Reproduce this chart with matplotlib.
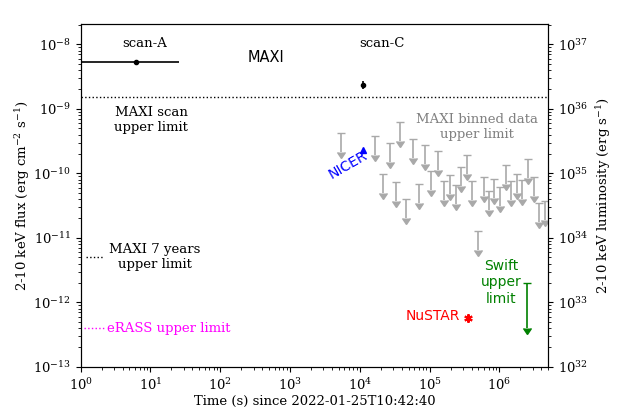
import numpy as np
import matplotlib
matplotlib.use("Agg")
import matplotlib.pyplot as plt

plt.rcParams['font.family'] = ['DejaVu Serif']
plt.rcParams['mathtext.fontset'] = 'dejavuserif'
plt.rcParams['font.size'] = 9.5

# MAXI binned upper limits
ul_time = [5350, 16400, 21300, 26800, 32700, 37300, 45400, 57200, 69600, 84800,
           1.03e5, 1.30e5, 1.58e5, 1.93e5, 2.35e5, 2.77e5, 3.38e5, 3.98e5, 4.85e5,
           5.91e5, 7.2e5, 8.48e5, 1.03e6, 1.26e6, 1.48e6, 1.81e6, 2.13e6, 2.60e6,
           3.16e6, 3.73e6, 4.54e6]
ul_flux = [4.28e-10, 3.85e-10, 9.9e-11, 3.0e-10, 7.4e-11, 6.35e-10, 4.05e-11, 3.46e-10,
           6.9e-11, 2.79e-10, 1.10e-10, 2.25e-10, 7.7e-11, 9.55e-11, 6.7e-11, 1.27e-10,
           1.95e-10, 7.7e-11, 1.29e-11, 8.9e-11, 5.4e-11, 8.3e-11, 6.2e-11, 1.36e-10,
           7.7e-11, 9.9e-11, 8.0e-11, 1.69e-10, 8.9e-11, 3.5e-11, 3.8e-11]

scanA_t, scanA_f = 6.3, 5.43e-9
scanA_terr = [[6.25], [19.5]]
scanC_t, scanC_f = 1.1e4, 2.32e-9
scanC_ferr = [[0.27e-9], [0.36e-9]]
maxi_scan_ul = 1.51e-9
maxi7_ul = 5.0e-12
maxi7_t = [1.19, 2.15]
erass_ul = 3.95e-13
erass_t = [1.12, 2.15]
nicer_t, nicer_f = 1.1e4, 2.3e-10
nustar_t, nustar_f = 3.5e5, 5.8e-13
swift_t, swift_f = 2.5e6, 2.0e-12

lum_factor = 1e45

fig = plt.figure(figsize=(6.23, 4.16), dpi=100)
ax = fig.add_axes([0.1295, 0.118, 0.7505, 0.8236])
ax.set_xscale('log')
ax.set_yscale('log')
ax.set_xlim(1, 5e6)
ax.set_ylim(1e-13, 2.05e-8)

# MAXI binned upper limits
ul_flux_arr = np.array(ul_flux)
ax.errorbar(ul_time, ul_flux_arr, yerr=0.5 * ul_flux_arr, uplims=True, fmt='none',
            color='darkgray', ecolor='darkgray', elinewidth=1.2, capsize=3)

# scan points
ax.errorbar([scanA_t], [scanA_f], xerr=scanA_terr, fmt='o', color='black', ms=3, lw=1.2)
ax.errorbar([scanC_t], [scanC_f], yerr=scanC_ferr, fmt='o', color='black', ms=3, lw=1.2)

ax.axhline(maxi_scan_ul, color='black', ls=':', lw=1)
ax.plot(maxi7_t, [maxi7_ul] * 2, color='black', ls=':', lw=1)
ax.plot(erass_t, [erass_ul] * 2, color='magenta', ls=':', lw=1)

ax.plot([nicer_t], [nicer_f], marker='^', color='blue', ms=5, ls='none')
ax.errorbar([nustar_t], [nustar_f], yerr=[[0.6e-13], [0.6e-13]], fmt='none', ecolor='red', lw=1)
ax.plot([nustar_t], [nustar_f], marker=(6, 2, 0), color='red', ms=6, mew=1.5, ls='none')
ax.errorbar([swift_t], [swift_f], yerr=[1.6e-12], uplims=True, fmt='none', color='green',
            ecolor='green', elinewidth=1.2, capsize=3)

# texts
ax.text(8.3, 1.03e-8, 'scan-A', ha='center', va='center')
ax.text(2.1e4, 1.03e-8, 'scan-C', ha='center', va='center')
ax.text(450, 6.3e-9, 'MAXI', ha='center', va='center', family='DejaVu Sans', fontsize=10.5)
ax.text(10.2, 6.8e-10, 'MAXI scan\nupper limit', ha='center', va='center')
ax.text(11.5, 5.1e-12, 'MAXI 7 years\nupper limit', ha='center', va='center')
ax.text(2.35, erass_ul, 'eRASS upper limit', ha='left', va='center', color='magenta')
ax.text(4.8e5, 5.2e-10, 'MAXI binned data\nupper limit', ha='center', va='center', color='gray')
ax.text(6700, 1.35e-10, 'NICER', ha='center', va='center', color='blue', rotation=30,
        family='DejaVu Sans', fontsize=10)
ax.text(1.1e5, 6.2e-13, 'NuSTAR', ha='center', va='center', color='red', family='DejaVu Sans',
        fontsize=10)
ax.text(1.07e6, 2.04e-12, 'Swift\nupper\nlimit', ha='center', va='center', color='green',
        family='DejaVu Sans', fontsize=10)

ax.set_xlabel('Time (s) since 2022-01-25T10:42:40', labelpad=2)
ax.set_ylabel('2-10 keV flux (erg cm$^{-2}$ s$^{-1}$)', labelpad=1)

ax2 = ax.twinx()
ax2.set_yscale('log')
ax2.set_ylim(ax.get_ylim()[0] * lum_factor, ax.get_ylim()[1] * lum_factor)
ax2.set_ylabel('2-10 keV luminosity (erg s$^{-1}$)')

fig.savefig('out.png', dpi=100)
